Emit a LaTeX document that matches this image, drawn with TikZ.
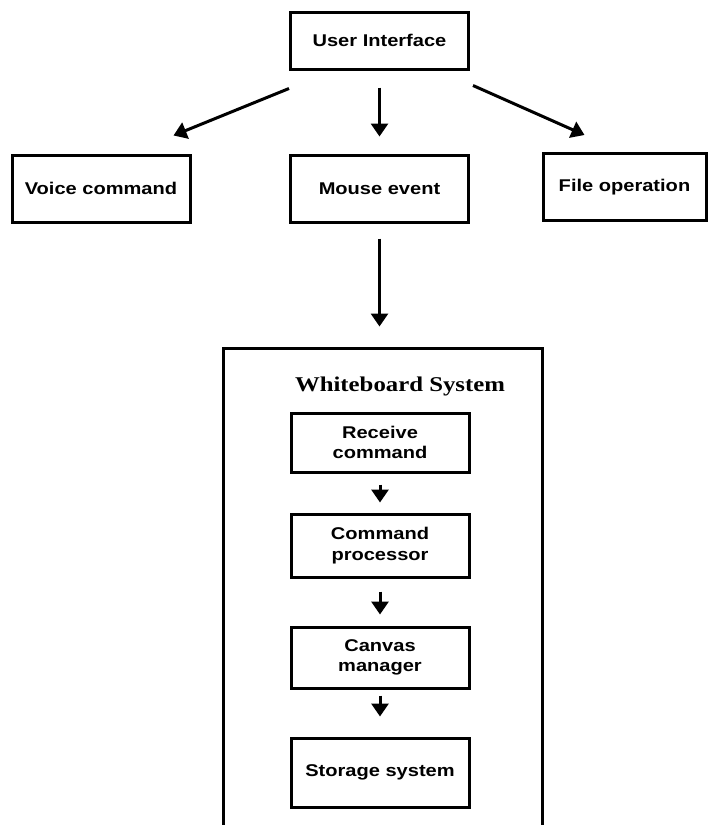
\documentclass[tikz,border=0pt]{standalone}
\usepackage{fontspec}
\setmainfont{Liberation Sans}[FakeStretch=1.18]
\newfontfamily\titlefont{Liberation Serif}[FakeStretch=1.18]
\usetikzlibrary{arrows.meta}

\begin{document}
\begin{tikzpicture}[x=1pt,y=-1pt,
    box/.style={draw,line width=3pt,minimum width=178pt,
      inner sep=0pt,align=center,
      font=\fontsize{17}{20.5}\selectfont\bfseries},
    flow/.style={-{Triangle[width=17pt,length=13pt]},line width=3pt}]
    \clip (0,0) rectangle (708,825);
    \useasboundingbox (0,0) rectangle (708,825);
    % top level
    \node[box,minimum height=57pt] (ui) at (379.5,40.5) {User Interface};
    \node[box,minimum height=67pt] (voice) at (101,188.5) {Voice command};
    \node[box,minimum height=67pt] (mouse) at (379.5,188.5) {Mouse event};
    \node[box,minimum width=163pt,minimum height=67pt] (file) at (624.5,187) {File operation};
    % whiteboard system (open at the bottom)
    \node[box,minimum width=319pt,minimum height=520pt] (wb) at (382.5,608) {};
    \node[font=\titlefont\fontsize{21}{24}\selectfont\bfseries] (title) at (400,386) {Whiteboard System};
    \node[box,minimum height=59pt] (recv) at (380,442.5) {Receive\\command};
    \node[box,minimum height=63pt] (proc) at (380,545.5) {Command\\processor};
    \node[box,minimum height=61pt] (canvas) at (380,657.5) {Canvas\\manager};
    \node[box,minimum height=69pt] (store) at (380,772.5) {Storage system};
    % arrows
    \draw[flow] ([yshift=-18pt]ui.south west) -- ([shift={(-18pt,18pt)}]voice.north east);
    \draw[flow] ([shift={(3pt,-15pt)}]ui.south east) -- ([shift={(43pt,17pt)}]file.north west);
    \draw[flow,shorten <=17pt,shorten >=17pt] (ui) -- (mouse);
    \draw[flow,shorten <=15pt,shorten >=20pt] (mouse.south) -- (mouse.south |- wb.north);
    \foreach \a/\b/\s/\e in {recv/proc/11/10,proc/canvas/13/11,canvas/store/6/20}
      \draw[flow,shorten <=\s pt,shorten >=\e pt] (\a) -- (\b);
\end{tikzpicture}
\end{document}
